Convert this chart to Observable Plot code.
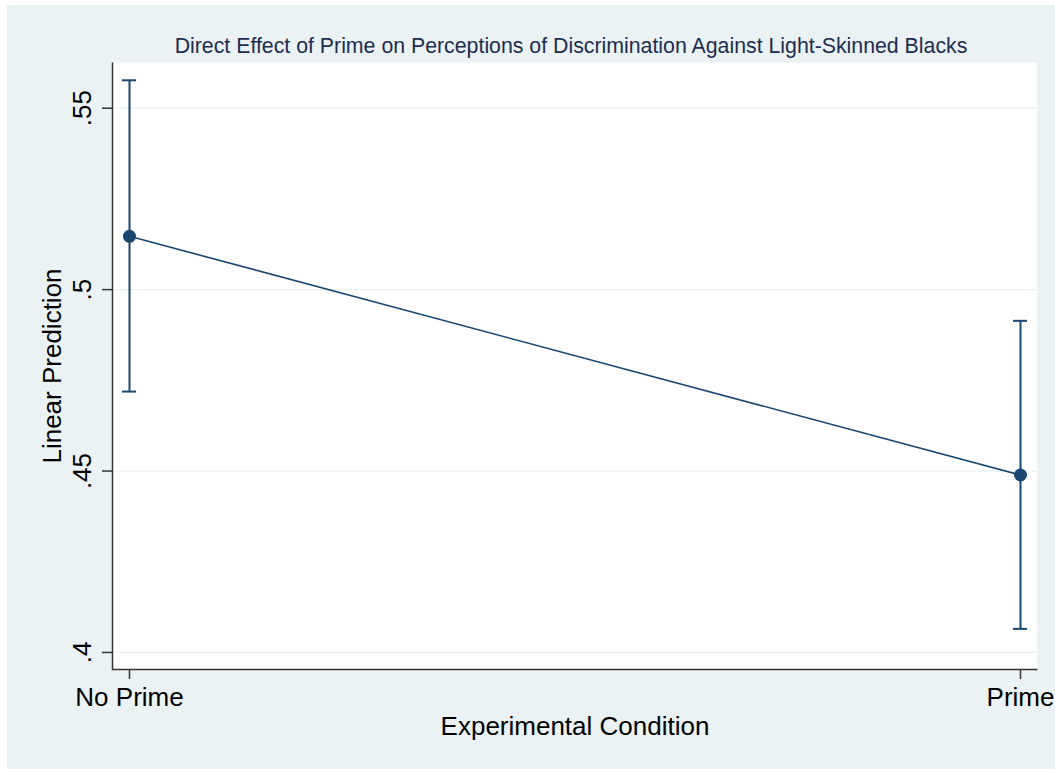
<!DOCTYPE html>
<html>
<head>
<meta charset="utf-8">
<script src="https://cdn.jsdelivr.net/npm/d3@7"></script>
<script src="https://cdn.jsdelivr.net/npm/@observablehq/plot@0.6"></script>
<style>
  html, body { margin: 0; padding: 0; background: #ffffff; }
  #chart { position: absolute; left: 7px; top: 5px; }
</style>
</head>
<body>
<div id="chart"></div>
<script>
const conditions = ["No Prime", "Prime"];
const estimates = [0.5147, 0.4489];
const lower = [0.4719, 0.4065];
const upper = [0.5577, 0.4914];
const yTicks = [0.4, 0.45, 0.5, 0.55];
const yDomain = [0.3953, 0.5626];
const titleText = "Direct Effect of Prime on Perceptions of Discrimination Against Light-Skinned Blacks";
const xTitle = "Experimental Condition";
const yTitle = "Linear Prediction";

const data = conditions.map((c, i) => ({cond: c, est: estimates[i], lo: lower[i], hi: upper[i]}));

const navy = "#1a476f";
const bg = "#eaf2f3";
const font = "'Liberation Sans', Helvetica, Arial, sans-serif";

const W = 1048, H = 764, mL = 105, mT = 57, mR = 18, mB = 100;
const fw = W - mL - mR, fh = H - mT - mB;

const chart = Plot.plot({
  width: W,
  height: H,
  marginLeft: mL,
  marginTop: mT,
  marginRight: mR,
  marginBottom: mB,
  style: {background: bg, fontFamily: font, color: "#000", overflow: "visible"},
  x: {type: "point", domain: conditions, padding: 0, inset: 17},
  y: {domain: yDomain},
  marks: [
    Plot.frame({fill: "white", stroke: null}),
    Plot.gridY(yTicks, {stroke: bg, strokeOpacity: 1, strokeWidth: 1.3}),
    // left + bottom axis lines only (skip top and right edges of the frame)
    Plot.frame({stroke: "#333", strokeWidth: 1.5, strokeDasharray: `0,${fw + fh},${fw + fh}`}),
    Plot.axisY(yTicks, {
      tickSize: 10, tickPadding: 20, tickRotate: -90,
      textAnchor: "middle", lineAnchor: "middle",
      tickFormat: d => String(d).slice(1),
      fontSize: 26, stroke: "#333", strokeWidth: 1.5, fill: "#000", label: null
    }),
    Plot.axisX({
      tickSize: 10, tickPadding: 8, fontSize: 26,
      stroke: "#333", strokeWidth: 1.5, fill: "#000", label: null
    }),
    Plot.text([titleText], {frameAnchor: "top", dx: -4, dy: -16.4, lineAnchor: "middle", fontSize: 21.3, fill: "#1c2d52"}),
    Plot.text([xTitle], {frameAnchor: "bottom", dy: 57.6, lineAnchor: "middle", fontSize: 26, fill: "#000"}),
    Plot.text([yTitle], {frameAnchor: "left", dx: -60.3, rotate: -90, lineAnchor: "middle", textAnchor: "middle", fontSize: 26, fill: "#000"}),
    Plot.ruleX(data, {x: "cond", y1: "lo", y2: "hi", stroke: navy, strokeWidth: 2}),
    Plot.ruleY(data, {y: "lo", x1: "cond", x2: "cond", insetLeft: -7, insetRight: -7, stroke: navy, strokeWidth: 2}),
    Plot.ruleY(data, {y: "hi", x1: "cond", x2: "cond", insetLeft: -7, insetRight: -7, stroke: navy, strokeWidth: 2}),
    Plot.line(data, {x: "cond", y: "est", stroke: navy, strokeWidth: 1.6}),
    Plot.dot(data, {x: "cond", y: "est", r: 6.5, fill: navy, stroke: null})
  ]
});
document.getElementById("chart").appendChild(chart);
</script>
</body>
</html>
